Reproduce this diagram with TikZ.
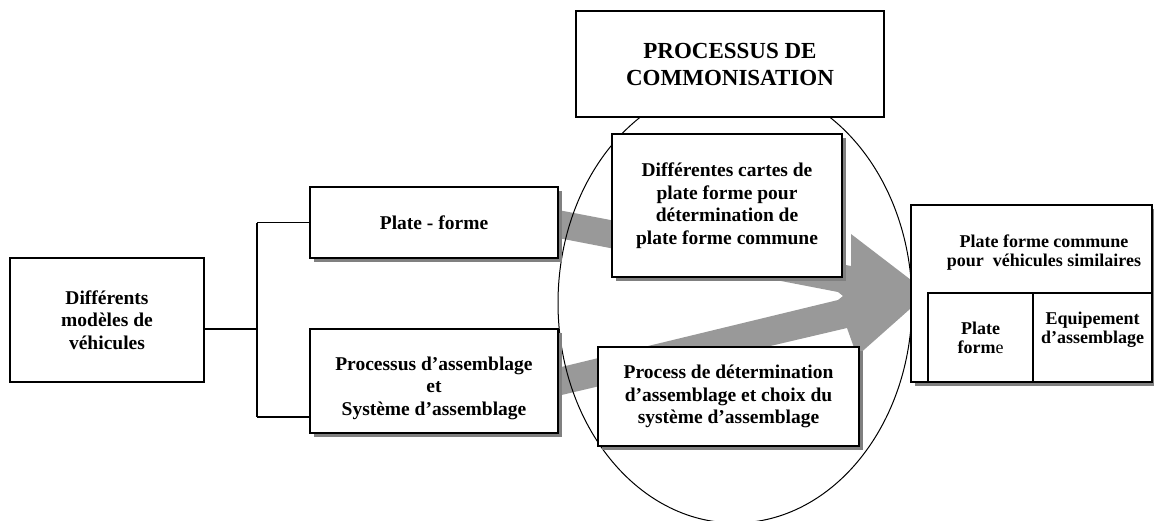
\documentclass[tikz,border=0pt]{standalone}
\usepackage{fontspec}
\setmainfont{Liberation Serif}
\usetikzlibrary{shadows}

\begin{document}
\begin{tikzpicture}
[x=0.5pt,y=-0.5pt,%
  lineDecorate/.style={-,line width=0.7pt},
  boxDecorate/.style={shape=rectangle,draw,line width=0.7pt,fill=white,inner sep=0pt,
    align=center,font=\bfseries\fontsize{9.75}{11.25}\selectfont},
  shadowDecorate/.style={boxDecorate,
    drop shadow={shadow xshift=2pt,shadow yshift=-2pt,fill=black!50,opacity=1}},
  arrowDecorate/.style={fill=black!40,draw=none}]
\useasboundingbox (0,0) rectangle (1154,520);
%%
%%%%%%%%%%%%%%%%%%%%%%%%%%%%%%%%%%%%%%%%%%%%%%%%%%%%%%%%%%%%%%%%%%%%%%%%%%%
%%
%% big grey arrow (two bands into one head)
\fill[arrowDecorate] (553,209) -- (851,266) -- (851,234) -- (928,293)
  -- (857,356) -- (847,328) -- (553,397) -- (553,369) -- (838,300)
  -- (843,296) -- (838,292) -- (553,237) -- cycle;
%% commonisation area
\draw[line width=0.5pt] (735,303) ellipse [x radius=88.5pt,y radius=110pt];
%%
%%%%%%%%%%%%%%%%%%%%%%%%%%%%%%%%%%%%%%%%%%%%%%%%%%%%%%%%%%%%%%%%%%%%%%%%%%%
%%
%% input side
\node (models) at (107,320) [boxDecorate,minimum width=97pt,minimum height=62pt]
  {Différents\\modèles de\\véhicules};
\node (plateforme) at (434,222.5) [shadowDecorate,minimum width=124pt,minimum height=35.5pt]
  {Plate - forme};
\node (processus) at (434,381) [shadowDecorate,minimum width=124pt,minimum height=52pt]
  {\rule{0pt}{14pt}Processus d’assemblage\\et\\Système d’assemblage};
%%
%%%%%%%%%%%%%%%%%%%%%%%%%%%%%%%%%%%%%%%%%%%%%%%%%%%%%%%%%%%%%%%%%%%%%%%%%%%
%%
%% commonisation process
\node (titre) at (730,64) [boxDecorate,minimum width=154pt,minimum height=53pt,
  font=\bfseries\fontsize{11.5}{13.5}\selectfont] {PROCESSUS DE\\COMMONISATION};
\node (cartes) at (727,205.5) [shadowDecorate,minimum width=115pt,minimum height=71.5pt]
  {Différentes cartes de\\plate forme pour\\détermination de\\plate forme commune};
\node (process) at (728.5,396.5) [shadowDecorate,minimum width=130.5pt,minimum height=49.5pt]
  {Process de détermination\\d’assemblage et choix du\\système d’assemblage};
%%
%%%%%%%%%%%%%%%%%%%%%%%%%%%%%%%%%%%%%%%%%%%%%%%%%%%%%%%%%%%%%%%%%%%%%%%%%%%
%%
%% result
\node (commune) at (1031.5,293.5) [shadowDecorate,minimum width=120.5pt,minimum height=88.5pt] {};
\node (communeText) at (1044,252.5) [align=center,font=\bfseries\fontsize{9}{9.75}\selectfont]
  {Plate forme commune\\pour\ \ véhicules similaires};
\node (pf) at (980.5,337.5) [boxDecorate,minimum width=52.5pt,minimum height=44.5pt,
  font=\bfseries\fontsize{9}{9.5}\selectfont] {Plate\\form{\mdseries e}};
\node (equip) at (1092.5,337.5) [boxDecorate,minimum width=59.5pt,minimum height=44.5pt,
  font=\bfseries\fontsize{9}{9.5}\selectfont] {Equipement\\d’assemblage\rule[-10pt]{0pt}{0pt}};
%%
%%%%%%%%%%%%%%%%%%%%%%%%%%%%%%%%%%%%%%%%%%%%%%%%%%%%%%%%%%%%%%%%%%%%%%%%%%%
%%
%% tree lines
\coordinate (jMid) at (257,329);
\coordinate (jTop) at (257,222.5);
\coordinate (jBot) at (257,417);
\coordinate (modelsOut) at (models.east |- jMid);
\coordinate (processusIn) at (processus.west |- jBot);
\path
\foreach \startnode/\endnode in {
  modelsOut/jMid, jTop/jBot,
  jTop/plateforme, jBot/processusIn}
{
  (\startnode) edge[lineDecorate] (\endnode)
};
\end{tikzpicture}
\end{document}
